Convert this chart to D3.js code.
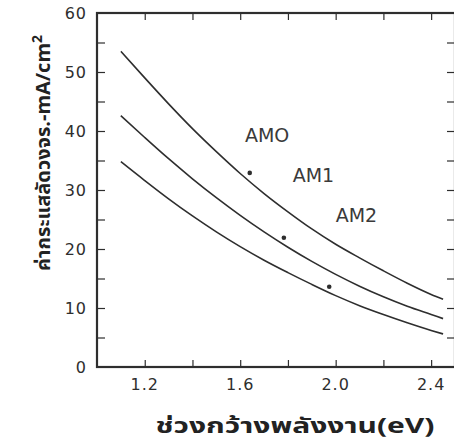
<!DOCTYPE html>
<html>
<head>
<meta charset="utf-8">
<script src="https://cdn.jsdelivr.net/npm/d3@7"></script>
<style>
  html, body { margin: 0; padding: 0; background: #fff; }
  svg { display: block; }
</style>
</head>
<body>
<svg id="chart" width="454" height="445"></svg>
<script>
// ---- data ----
const energy = [1.1, 1.2, 1.3, 1.4, 1.5, 1.6, 1.7, 1.8, 1.9, 2.0, 2.1, 2.2, 2.3, 2.4, 2.45];
const am0 = [53.5, 49.0, 44.6, 40.4, 36.5, 32.8, 29.4, 26.3, 23.4, 20.8, 18.5, 16.3, 14.2, 12.3, 11.5];
const am1 = [42.6, 38.9, 35.3, 31.9, 28.7, 25.7, 22.9, 20.3, 17.9, 15.7, 13.7, 11.9, 10.3, 8.9, 8.2];
const am2 = [34.8, 31.6, 28.5, 25.6, 22.9, 20.4, 18.1, 16.0, 14.0, 12.1, 10.4, 8.9, 7.5, 6.2, 5.6];
const seriesNames = ["AMO", "AM1", "AM2"];
const labelPos = [[1.62, 38.1], [1.82, 31.4], [2.0, 24.6]];   // label anchor (x, y) in data units
const markPos = [[1.64, 32.9], [1.783, 21.9], [1.973, 13.6]];
const xTickLabels = [1.2, 1.6, 2.0, 2.4];
const xTicksAll = [1.2, 1.4, 1.6, 1.8, 2.0, 2.2, 2.4];
const yTickLabels = [0, 10, 20, 30, 40, 50, 60];
const yTicksAll = [5, 10, 15, 20, 25, 30, 35, 40, 45, 50, 55];
const xTitle = "ช่วงกว้างพลังงาน(eV)";
const yTitleMain = "ค่ากระแสลัดวงจร.-mA/cm";
const yTitleSup = "2";

(function () {
// ---- layout ----
const svg = d3.select("#chart");
const pL = 97, pR = 455, pT = 13, pB = 367;
const x = d3.scaleLinear().domain([1.0, 2.5]).range([pL, pR]);
const y = d3.scaleLinear().domain([0, 60]).range([pB, pT]);
const ink = "#2e2e2e";

// ticks
const g = svg.append("g");
function styleTicks(s) { s.select(".domain").remove(); s.selectAll("line").attr("stroke", ink).attr("stroke-width", 1.2); }
g.append("g").attr("transform", `translate(0,${pB})`)
  .call(d3.axisBottom(x).tickValues(xTicksAll).tickSize(-7).tickFormat("")).call(styleTicks);
g.append("g").attr("transform", `translate(0,${pT})`)
  .call(d3.axisTop(x).tickValues(xTicksAll).tickSize(-7).tickFormat("")).call(styleTicks);
g.append("g").attr("transform", `translate(${pL},0)`)
  .call(d3.axisLeft(y).tickValues(yTicksAll).tickSize(-8).tickFormat("")).call(styleTicks);
g.append("g").attr("transform", `translate(${pR},0)`)
  .call(d3.axisRight(y).tickValues(yTicksAll).tickSize(-8).tickFormat("")).call(styleTicks);

// frame
svg.append("rect").attr("x", pL).attr("y", pT)
  .attr("width", pR - pL).attr("height", pB - pT)
  .attr("fill", "none").attr("stroke", ink).attr("stroke-width", 2.2);

// tick labels
const tickFont = "'DejaVu Sans', sans-serif";
svg.append("g").selectAll("text").data(xTickLabels).join("text")
  .attr("x", d => x(d)).attr("y", 390)
  .attr("text-anchor", "middle")
  .attr("font-family", tickFont).attr("font-size", 16).attr("letter-spacing", 1)
  .attr("fill", ink)
  .text(d => d.toFixed(1));
svg.append("g").selectAll("text").data(yTickLabels).join("text")
  .attr("x", 87).attr("y", d => y(d)).attr("dy", "0.36em")
  .attr("text-anchor", "end")
  .attr("font-family", tickFont).attr("font-size", 16).attr("letter-spacing", 1)
  .attr("fill", ink)
  .text(d => d);

// curves
const seriesValues = [am0, am1, am2];
const line = d3.line().x(d => x(d[0])).y(d => y(d[1])).curve(d3.curveMonotoneX);
seriesValues.forEach(vals => {
  svg.append("path")
    .datum(energy.map((e, i) => [e, vals[i]]))
    .attr("d", line)
    .attr("fill", "none").attr("stroke", ink).attr("stroke-width", 1.6);
});

// marks and series labels
svg.append("g").selectAll("circle").data(markPos).join("circle")
  .attr("cx", d => x(d[0])).attr("cy", d => y(d[1])).attr("r", 2.3).attr("fill", ink);
svg.append("g").selectAll("text").data(seriesNames).join("text")
  .attr("x", (d, i) => x(labelPos[i][0])).attr("y", (d, i) => y(labelPos[i][1]))
  .attr("font-family", tickFont).attr("font-size", 19)
  .attr("fill", "#3a3a3a")
  .text(d => d);

// axis titles
svg.append("text")
  .attr("x", 295).attr("y", 433)
  .attr("text-anchor", "middle")
  .attr("font-family", "'Noto Sans Thai', 'Noto Sans', 'DejaVu Sans', sans-serif")
  .attr("font-size", 22).attr("font-weight", "bold")
  .attr("textLength", 279).attr("lengthAdjust", "spacingAndGlyphs")
  .attr("fill", "#222")
  .text(xTitle);

const yt = svg.append("text")
  .attr("transform", "translate(50,153) rotate(-90)")
  .attr("text-anchor", "middle")
  .attr("font-family", "'Noto Sans Thai', 'Noto Sans', 'DejaVu Sans', sans-serif")
  .attr("font-size", 20).attr("font-weight", "bold")
  .attr("fill", "#222");
yt.append("tspan").text(yTitleMain);
yt.append("tspan").attr("dy", "-0.6em").attr("font-size", 14).text(yTitleSup);
})();
</script>
</body>
</html>
